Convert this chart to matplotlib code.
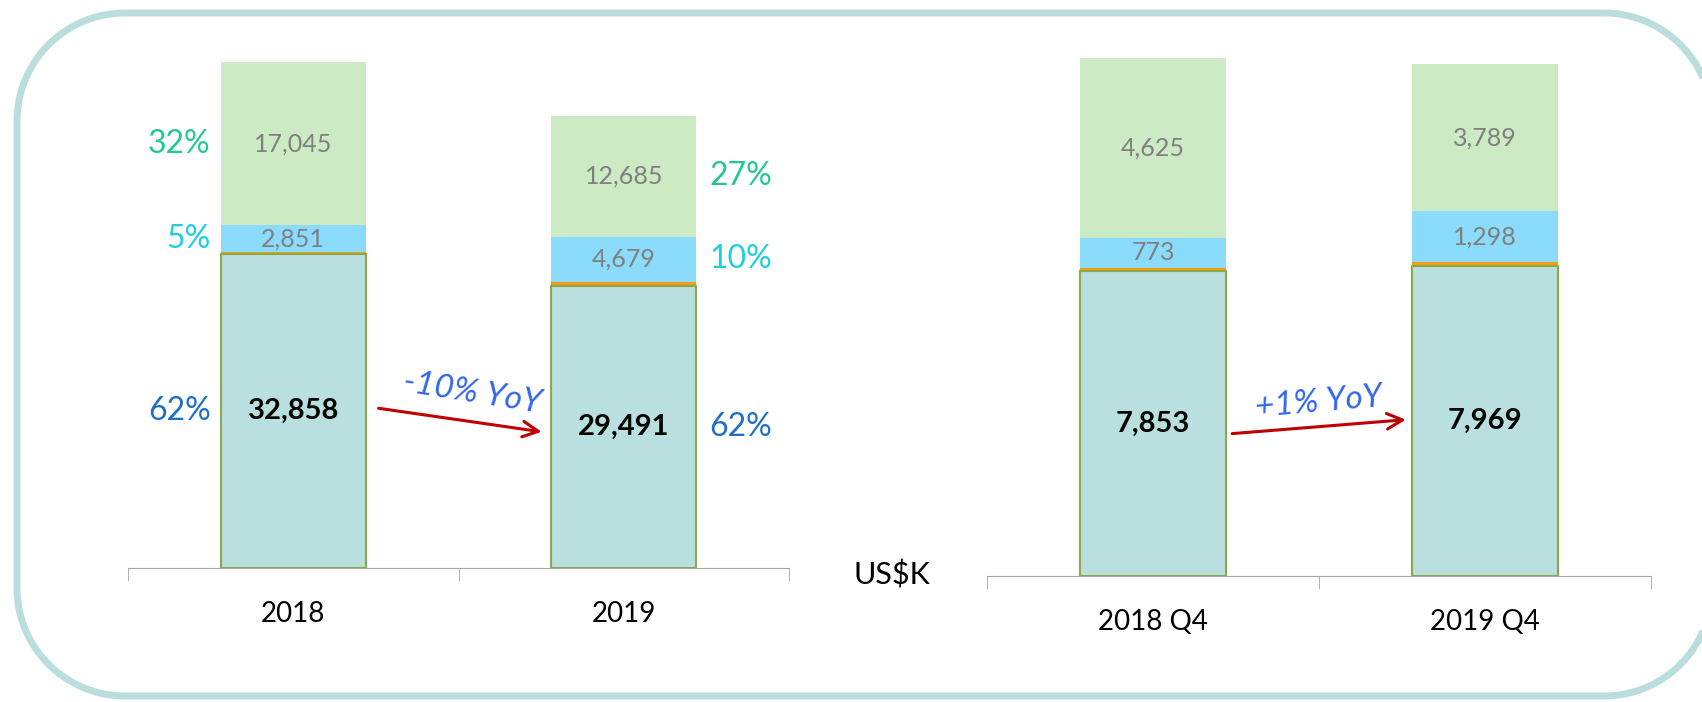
import numpy as np
import matplotlib.pyplot as plt
from matplotlib.patches import Polygon

plt.rcParams['font.family'] = ['Lato', 'DejaVu Sans']

# yearly totals (US$K)
years = ["2018", "2019"]
year_main = [32858, 29491]
year_orange = [150, 450]
year_blue = [2851, 4679]
year_green = [17045, 12685]
year_pct_main = ["62%", "62%"]
year_pct_blue = ["5%", "10%"]
year_pct_green = ["32%", "27%"]

# fourth quarter
quarters = ["2018 Q4", "2019 Q4"]
q_main = [7853, 7969]
q_orange = [80, 120]
q_blue = [773, 1298]
q_green = [4625, 3789]

c_main = '#badfdf'
c_edge = '#8ca84a'
c_orange = '#f59d0f'
c_blue = '#8bdcfc'
c_green = '#cceac3'
c_gray = '#7f7f7f'

fig = plt.figure(figsize=(17.02, 7.02), dpi=100)

# rounded frame in pixel coords (y down); its right side lies off the picture
bg = fig.add_axes([0, 0, 1, 1], zorder=0)
bg.set_xlim(0, 1702)
bg.set_ylim(702, 0)
bg.axis('off')
L, T, R, B, r = 17, 13, 1712, 696, 108
corners = [(R - r, T + r, -90, 0), (R - r, B - r, 0, 90),
           (L + r, B - r, 90, 180), (L + r, T + r, 180, 270)]
pts = []
for cx, cy, a0, a1 in corners:
    a = np.radians(np.linspace(a0, a1, 40))
    pts.extend(zip(cx + r * np.cos(a), cy + r * np.sin(a)))
bg.add_patch(Polygon(pts, closed=True, fill=False, edgecolor='#badedd',
                     linewidth=5, joinstyle='round', clip_on=False))


def stacked(ax, cats, main, orange, blue, green, ytop):
    x = np.arange(len(cats))
    w = 0.44
    ax.bar(x, main, w, color=c_main, edgecolor=c_edge, linewidth=1.5, zorder=3)
    b1 = np.array(main)
    ax.bar(x, orange, w, bottom=b1, color=c_orange, linewidth=0, zorder=2)
    b2 = b1 + np.array(orange)
    ax.bar(x, blue, w, bottom=b2, color=c_blue, linewidth=0, zorder=2)
    b3 = b2 + np.array(blue)
    ax.bar(x, green, w, bottom=b3, color=c_green, linewidth=0, zorder=2)
    for i in x:
        ax.text(i, main[i] / 2, f"{main[i]:,}", ha='center', va='center',
                fontsize=21, fontweight='bold', color='black', zorder=5)
        ax.text(i, b2[i] + blue[i] / 2, f"{blue[i]:,}", ha='center', va='center',
                fontsize=18, color=c_gray, zorder=5)
        ax.text(i, b3[i] + green[i] / 2, f"{green[i]:,}", ha='center', va='center',
                fontsize=18, color=c_gray, zorder=5)
    ax.set_xlim(-0.5, 1.5)
    ax.set_ylim(0, ytop)
    for s in ['top', 'left', 'right']:
        ax.spines[s].set_visible(False)
    ax.spines['bottom'].set_color('#a6a6a6')
    ax.set_yticks([])
    ax.set_xticks(x)
    ax.set_xticklabels(cats, fontsize=20)
    ax.tick_params(axis='x', which='major', length=0, pad=24)
    ax.set_xticks([-0.5, 0.5, 1.5], minor=True)
    ax.tick_params(axis='x', which='minor', length=9, color='#a6a6a6')
    ax.patch.set_alpha(0)
    return b2, b3


# left chart: full year
ax1 = fig.add_axes([128 / 1702, 1 - 568 / 702, 661 / 1702, 528 / 702], zorder=2)
b2, b3 = stacked(ax1, years, year_main, year_orange, year_blue, year_green, 55230)
c_g, c_b, c_m = '#22c997', '#1fcfdc', '#1f6fc4'
for i, (xp, ha) in enumerate([(-0.25, 'right'), (1.26, 'left')]):
    ax1.text(xp, b3[i] + year_green[i] / 2, year_pct_green[i], ha=ha, va='center',
             fontsize=23, color=c_g)
    ax1.text(xp, b2[i] + year_blue[i] / 2, year_pct_blue[i], ha=ha, va='center',
             fontsize=23, color=c_b)
    ax1.text(xp, year_main[i] / 2, year_pct_main[i], ha=ha, va='center',
             fontsize=23, color=c_m)

ax1.annotate('', xy=(0.76, 14200), xytext=(0.25, 16750),
             arrowprops=dict(arrowstyle='->', color='#c00000', lw=2.2,
                             mutation_scale=28))
ax1.text(0.54, 18300, '-10% YoY', ha='center', va='center', rotation=-9,
         fontsize=24, style='italic', color='#3366ee')

# right chart: Q4
ax2 = fig.add_axes([987 / 1702, 1 - 576 / 702, 664 / 1702, 536 / 702], zorder=2)
stacked(ax2, quarters, q_main, q_orange, q_blue, q_green, 13800)
ax2.annotate('', xy=(0.77, 4030), xytext=(0.23, 3660),
             arrowprops=dict(arrowstyle='->', color='#c00000', lw=2.2,
                             mutation_scale=28))
ax2.text(0.5, 4480, '+1% YoY', ha='center', va='center', rotation=5,
         fontsize=24, style='italic', color='#3366ee')

fig.text(892 / 1702, 1 - 575 / 702, 'US$K', ha='center', va='center', fontsize=22)

fig.savefig('out.png', dpi=100)
